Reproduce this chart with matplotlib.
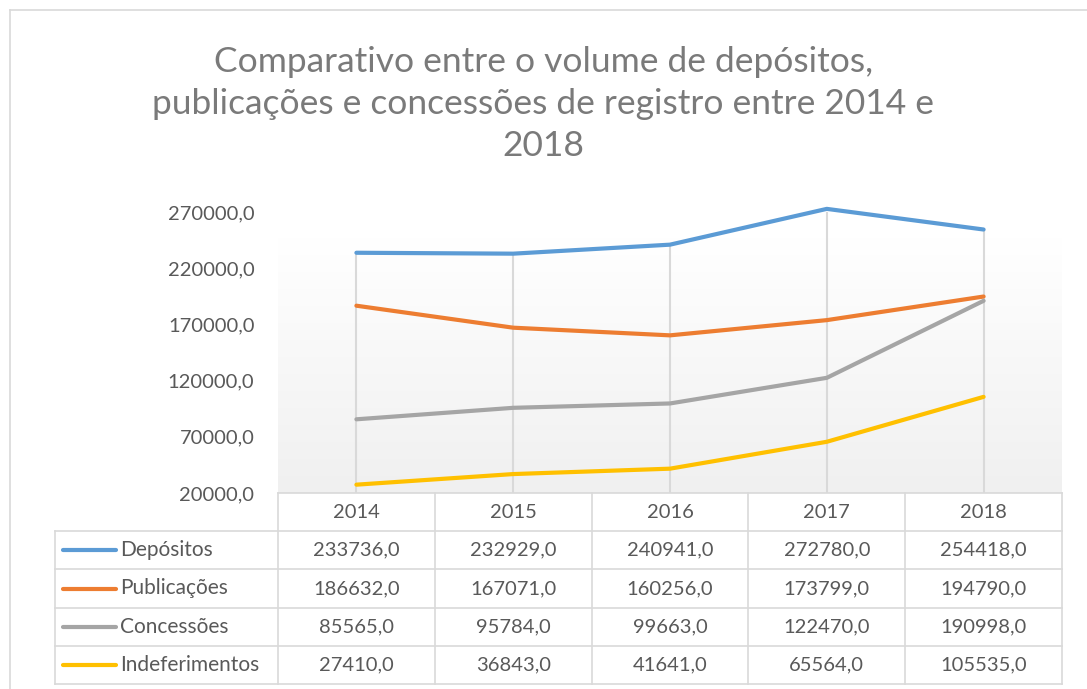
import numpy as np
import matplotlib
matplotlib.use("Agg")
import matplotlib.pyplot as plt
from matplotlib.lines import Line2D
from matplotlib.colors import LinearSegmentedColormap
from matplotlib.ticker import FuncFormatter

YEARS = ["2014", "2015", "2016", "2017", "2018"]
SERIES = ["Depósitos", "Publicações", "Concessões", "Indeferimentos"]
depositos = [233736.0, 232929.0, 240941.0, 272780.0, 254418.0]
publicacoes = [186632.0, 167071.0, 160256.0, 173799.0, 194790.0]
concessoes = [85565.0, 95784.0, 99663.0, 122470.0, 190998.0]
indeferimentos = [27410.0, 36843.0, 41641.0, 65564.0, 105535.0]
Y_TICKS = [20000, 70000, 120000, 170000, 220000, 270000]

COLORS = ["#5b9bd5", "#ed7d31", "#a5a5a5", "#ffc000"]
TEXT = "#595959"
GRID = "#d9d9d9"

W, H = 1087, 689
plt.rcParams["font.family"] = ["Lato", "DejaVu Sans"]


def fx(px):
    return px / W


def fy(py):
    return 1 - py / H


def fmt(v):
    return f"{v:.1f}".replace(".", ",")


fig = plt.figure(figsize=(W / 100, H / 100), dpi=100)

# outer chart border (right/bottom are cut off in the original)
fig.add_artist(Line2D([fx(10), fx(10)], [fy(10), 0], color=GRID, lw=1.2))
fig.add_artist(Line2D([fx(10), 1], [fy(10), fy(10)], color=GRID, lw=1.2))

fig.text(0.5, fy(104), "Comparativo entre o volume de depósitos,\n"
         "publicações e concessões de registro entre 2014 e\n2018",
         ha="center", va="center", fontsize=25.5, color="#7a7a7a",
         fontweight="normal", linespacing=1.4)

PL, PR, PT, PB = 278, 1062, 212, 493
ax = fig.add_axes([fx(PL), fy(PB), fx(PR) - fx(PL), fy(PT) - fy(PB)])
ax.set_xlim(-0.5, len(YEARS) - 0.5)
ax.set_ylim(Y_TICKS[0], Y_TICKS[-1])

# gradient plot area
grad = np.linspace(0, 1, 256).reshape(-1, 1)
cmap = LinearSegmentedColormap.from_list("g", ["#f0f0f0", "#ffffff"])
ax.imshow(grad, extent=[-0.5, len(YEARS) - 0.5, Y_TICKS[0], 247000],
          origin="lower", aspect="auto", cmap=cmap, zorder=0)

data = [depositos, publicacoes, concessoes, indeferimentos]
x = np.arange(len(YEARS))
# drop lines from the highest value down to the axis
tops = np.max(np.array(data), axis=0)
ax.vlines(x, Y_TICKS[0], tops, color=GRID, lw=1.5, zorder=1)
for ys, c in zip(data, COLORS):
    ax.plot(x, ys, color=c, lw=3, solid_capstyle="round", zorder=3, clip_on=False)

for s in ax.spines.values():
    s.set_visible(False)
ax.set_xticks([])
ax.set_yticks(Y_TICKS)
ax.yaxis.set_major_formatter(FuncFormatter(lambda v, p: fmt(v)))
ax.tick_params(axis="y", length=0, pad=17, labelsize=14.5, labelcolor=TEXT)

# data table
col_w = (PR - PL) / len(YEARS)
row_h = 38.2
TL = 55
rows_y = [PB + row_h * (i + 1) for i in range(len(SERIES) + 1)]
lw_t = 1.2
for i in range(len(YEARS) + 1):
    xx = PL + col_w * i
    fig.add_artist(Line2D([fx(xx), fx(xx)], [fy(PB), fy(rows_y[-1])], color=GRID, lw=lw_t))
fig.add_artist(Line2D([fx(TL), fx(TL)], [fy(rows_y[0]), fy(rows_y[-1])], color=GRID, lw=lw_t))
fig.add_artist(Line2D([fx(PL), fx(PR)], [fy(PB), fy(PB)], color=GRID, lw=lw_t))
for yy in rows_y:
    fig.add_artist(Line2D([fx(TL), fx(PR)], [fy(yy), fy(yy)], color=GRID, lw=lw_t))

for i, yr in enumerate(YEARS):
    fig.text(fx(PL + col_w * (i + 0.5)), fy(PB + row_h / 2), yr,
             ha="center", va="center", fontsize=14.5, color=TEXT)
for r, (name, ys, c) in enumerate(zip(SERIES, data, COLORS)):
    cy = rows_y[r] + row_h / 2
    fig.add_artist(Line2D([fx(63), fx(116)], [fy(cy), fy(cy)], color=c, lw=3,
                          solid_capstyle="round"))
    fig.text(fx(120), fy(cy), name, ha="left", va="center", fontsize=15, color=TEXT)
    for i, v in enumerate(ys):
        fig.text(fx(PL + col_w * (i + 0.5)), fy(cy), fmt(v),
                 ha="center", va="center", fontsize=14.5, color=TEXT)

fig.savefig("out.png", dpi=100)
